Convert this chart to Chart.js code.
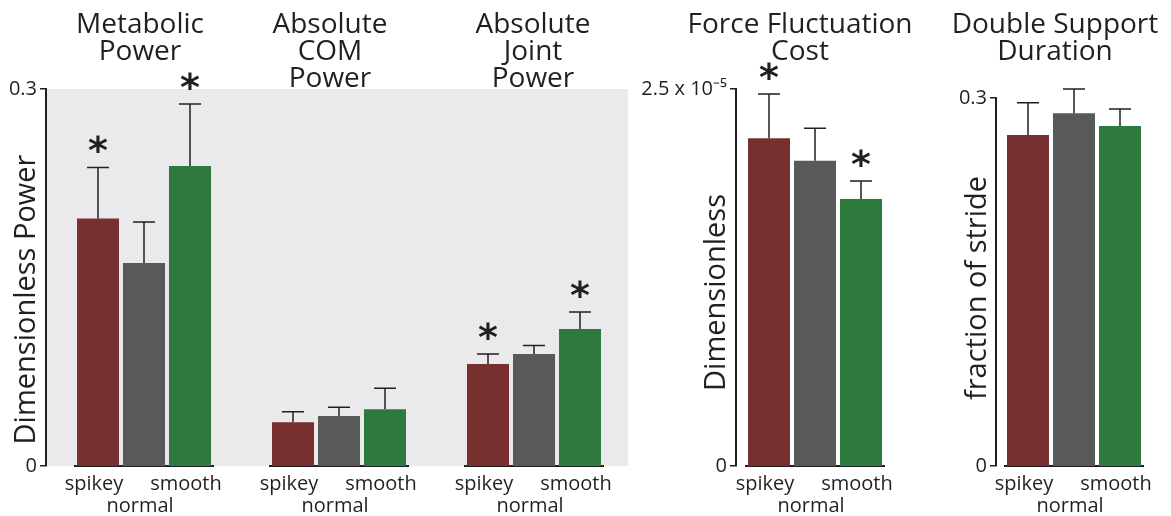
<!DOCTYPE html>
<html>
<head>
<meta charset="utf-8">
<script src="https://cdn.jsdelivr.net/npm/chart.js@4.4.0/dist/chart.umd.min.js"></script>
<style>
  html, body { margin: 0; padding: 0; background: #fff; }
  body { width: 1171px; height: 516px; position: relative; overflow: hidden; }
  canvas { position: absolute; top: 0; }
</style>
</head>
<body>
<canvas id="axisPower" width="640" height="516" style="left:0px"></canvas>
<canvas id="axisForce" width="120" height="516" style="left:620px"></canvas>
<canvas id="axisStride" width="60" height="516" style="left:940px"></canvas>
<canvas id="metabolic" width="298" height="516" style="left:-5px"></canvas>
<canvas id="com" width="298" height="516" style="left:190px"></canvas>
<canvas id="joint" width="298" height="516" style="left:385px"></canvas>
<canvas id="force" width="298" height="516" style="left:666px"></canvas>
<canvas id="stride" width="298" height="516" style="left:925px"></canvas>
<script>
// data
const conditions = ['spikey', 'normal', 'smooth'];
const barColors = ['#772f30', '#58595b', '#2e7a3c'];

const metabolicMean = [0.197, 0.1615, 0.2387];
const metabolicErr = [0.0406, 0.0327, 0.0494];
const metabolicSig = [true, false, true];

const comMean = [0.0348, 0.0398, 0.0451];
const comErr = [0.0084, 0.0069, 0.0167];
const comSig = [false, false, false];

const jointMean = [0.0812, 0.0891, 0.109];
const jointErr = [0.0079, 0.0067, 0.0136];
const jointSig = [true, false, true];

const forceMean = [2.173e-5, 2.025e-5, 1.771e-5];
const forceErr = [0.294e-5, 0.214e-5, 0.119e-5];
const forceSig = [true, false, true];

const strideMean = [0.2698, 0.2875, 0.2772];
const strideErr = [0.0264, 0.0198, 0.0138];
const strideSig = [false, false, false];

const powerTicks = [0, 0.3];
const powerTickLabels = ['0', '0.3'];
const forceTicks = [0, 2.5e-5];
const forceTickLabels = ['0', '2.5 x 10\u207B\u2075'];
const strideTicks = [0, 0.3];
const strideTickLabels = ['0', '0.3'];

// "normal" sits on the second line under the middle bar
const xLabels = conditions.map((c, i) => i === 1 ? ['', c] : [c, '']);

const INK = '#231f20';
const H = 516, BOTTOM = 466, SIDE = 80;

Chart.defaults.font.family = "'Open Sans', sans-serif";
Chart.defaults.color = INK;

// grey panel behind the first three groups
const shadePlugin = {
    id: 'shade',
    beforeDraw(chart, args, opts) {
        if (!opts.color) return;
        const a = chart.chartArea;
        const ctx = chart.ctx;
        ctx.save();
        ctx.fillStyle = opts.color;
        ctx.fillRect(a.left, a.top, a.right - a.left, a.bottom - a.top);
        ctx.restore();
    }
};

// one-sided error bars + significance stars
const errorBarPlugin = {
    id: 'errorBars',
    afterDatasetsDraw(chart) {
        const ctx = chart.ctx;
        const y = chart.scales.y;
        chart.data.datasets.forEach((ds, di) => {
            if (!ds.errors) return;
            chart.getDatasetMeta(di).data.forEach((bar, i) => {
                const yTop = y.getPixelForValue(ds.data[i] + ds.errors[i]);
                ctx.save();
                ctx.strokeStyle = INK;
                ctx.lineWidth = 1.5;
                ctx.beginPath();
                ctx.moveTo(bar.x, bar.y);
                ctx.lineTo(bar.x, yTop);
                ctx.moveTo(bar.x - 11, yTop);
                ctx.lineTo(bar.x + 11, yTop);
                ctx.stroke();
                if (ds.stars && ds.stars[i]) {
                    ctx.fillStyle = INK;
                    ctx.font = 'bold 38px "DejaVu Sans"';
                    ctx.textAlign = 'center';
                    ctx.textBaseline = 'alphabetic';
                    ctx.fillText('*', bar.x, yTop - 4);
                }
                ctx.restore();
            });
        });
    }
};

// stacked title lines above each group
const panelTitlePlugin = {
    id: 'panelTitle',
    afterDraw(chart, args, opts) {
        if (!opts.lines) return;
        const a = chart.chartArea;
        const ctx = chart.ctx;
        ctx.save();
        ctx.font = '28px "Open Sans"';
        ctx.fillStyle = INK;
        ctx.textAlign = 'center';
        ctx.textBaseline = 'alphabetic';
        const cx = (a.left + a.right) / 2 + (opts.shift || 0);
        for (let i = 0; i < opts.lines.length; i++) {
            ctx.fillText(opts.lines[i], cx, 33 + i * 27);
        }
        ctx.restore();
    }
};

// rotated y title, placed a bit off centre like the original
const sideLabelPlugin = {
    id: 'sideLabel',
    afterDraw(chart, args, opts) {
        if (!opts.text) return;
        const a = chart.chartArea;
        const ctx = chart.ctx;
        ctx.save();
        ctx.translate(a.left - opts.gap, (a.top + a.bottom) / 2 + opts.shift);
        ctx.rotate(-Math.PI / 2);
        ctx.font = '29px "Open Sans"';
        ctx.fillStyle = INK;
        ctx.textAlign = 'center';
        ctx.textBaseline = 'alphabetic';
        ctx.fillText(opts.text, 0, 0);
        ctx.restore();
    }
};

Chart.register(shadePlugin, errorBarPlugin, panelTitlePlugin, sideLabelPlugin);

function makeAxis(id, spec) {
    return new Chart(document.getElementById(id), {
        type: 'bar',
        data: { labels: [], datasets: [] },
        options: {
            responsive: false,
            animation: false,
            events: [],
            layout: { padding: { top: spec.top, bottom: H - BOTTOM, left: 0, right: spec.right } },
            plugins: {
                legend: { display: false },
                tooltip: { enabled: false },
                shade: { color: spec.shade },
                sideLabel: { text: spec.title, gap: spec.titleGap, shift: spec.titleShift }
            },
            scales: {
                x: { display: false },
                y: {
                    min: 0,
                    max: spec.ticks[spec.ticks.length - 1],
                    afterFit: (s) => { s.width = spec.width; },
                    afterBuildTicks: (s) => { s.ticks = spec.ticks.map(v => ({ value: v })); },
                    border: { display: true, color: INK, width: 2 },
                    grid: { drawOnChartArea: false, drawTicks: true, tickLength: 6, color: INK, lineWidth: 1.5 },
                    ticks: {
                        padding: 3,
                        font: { size: 20 },
                        color: INK,
                        callback: (v, i) => spec.labels[i]
                    }
                }
            }
        }
    });
}

function makeGroup(id, spec) {
    return new Chart(document.getElementById(id), {
        type: 'bar',
        data: {
            labels: xLabels,
            datasets: [{
                data: spec.mean,
                errors: spec.err,
                stars: spec.sig,
                backgroundColor: barColors,
                borderWidth: 0,
                barPercentage: 42 / 46,
                categoryPercentage: 1
            }]
        },
        options: {
            responsive: false,
            animation: false,
            events: [],
            layout: { padding: { top: spec.top, bottom: 0, left: SIDE, right: SIDE } },
            plugins: {
                legend: { display: false },
                tooltip: { enabled: false },
                panelTitle: { lines: spec.title, shift: spec.titleShift }
            },
            scales: {
                x: {
                    offset: true,
                    z: 1,
                    grid: { display: false, drawTicks: false },
                    border: { display: true, color: INK, width: 2 },
                    ticks: {
                        font: { size: 20, lineHeight: 1.1 },
                        color: INK,
                        padding: 7,
                        maxRotation: 0,
                        autoSkip: false,
                        labelOffset: -4
                    },
                    afterFit: (s) => { s.height = H - BOTTOM; }
                },
                y: { display: false, min: 0, max: spec.max }
            }
        }
    });
}

makeAxis('axisPower', {
    top: 89, width: 46, right: 12, shade: '#eaeaed',
    ticks: powerTicks, labels: powerTickLabels,
    title: 'Dimensionless Power', titleGap: 11, titleShift: 22
});
makeAxis('axisForce', {
    top: 89, width: 116, right: 0,
    ticks: forceTicks, labels: forceTickLabels,
    title: 'Dimensionless', titleGap: 11, titleShift: 15
});
makeAxis('axisStride', {
    top: 98, width: 56, right: 0,
    ticks: strideTicks, labels: strideTickLabels,
    title: 'fraction of stride', titleGap: 10, titleShift: 6
});

makeGroup('metabolic', {
    top: 89, max: powerTicks[1], mean: metabolicMean, err: metabolicErr, sig: metabolicSig,
    title: ['Metabolic', 'Power'], titleShift: -4
});
makeGroup('com', {
    top: 89, max: powerTicks[1], mean: comMean, err: comErr, sig: comSig,
    title: ['Absolute', 'COM', 'Power'], titleShift: -9
});
makeGroup('joint', {
    top: 89, max: powerTicks[1], mean: jointMean, err: jointErr, sig: jointSig,
    title: ['Absolute', 'Joint', 'Power'], titleShift: -1
});
makeGroup('force', {
    top: 89, max: forceTicks[1], mean: forceMean, err: forceErr, sig: forceSig,
    title: ['Force Fluctuation', 'Cost'], titleShift: -15
});
makeGroup('stride', {
    top: 98, max: strideTicks[1], mean: strideMean, err: strideErr, sig: strideSig,
    title: ['Double Support', 'Duration'], titleShift: -19
});
</script>
</body>
</html>
